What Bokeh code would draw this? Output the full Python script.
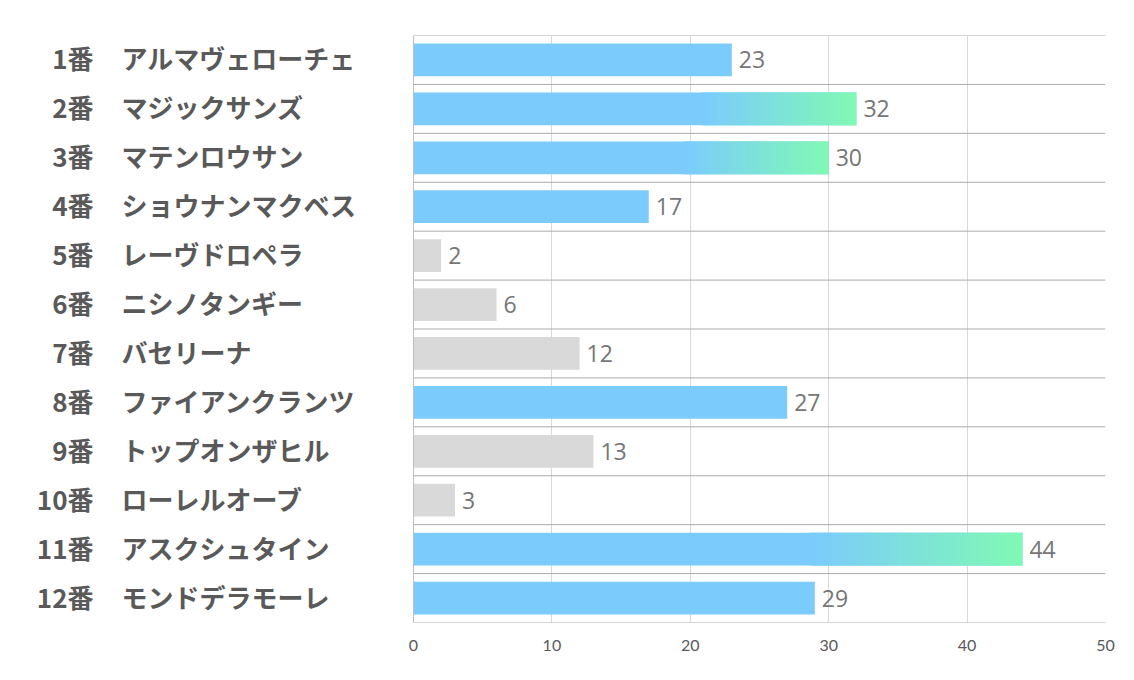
from bokeh.plotting import figure
from bokeh.models import Range1d
from bokeh.core.properties import value
from bokeh.embed import file_html
from bokeh.resources import INLINE
import numpy as np

numbers = ["1番", "2番", "3番", "4番", "5番", "6番", "7番", "8番", "9番", "10番", "11番", "12番"]
names = ["アルマヴェローチェ", "マジックサンズ", "マテンロウサン", "ショウナンマクベス", "レーヴドロペラ",
         "ニシノタンギー", "バセリーナ", "ファイアンクランツ", "トップオンザヒル", "ローレルオーブ",
         "アスクシュタイン", "モンドデラモーレ"]
values = [23, 32, 30, 17, 2, 6, 12, 27, 13, 3, 44, 29]
styles = ["blue", "grad", "grad", "blue", "gray", "gray", "gray", "blue", "gray", "gray", "grad", "blue"]
ticks = [0, 10, 20, 30, 40, 50]

BLUE = "#7BCBFD"
GREEN = "#80F9B4"
GRAY = "#D9D9D9"

n = len(values)
ys = [n - 1 - i for i in range(n)]

p = figure(width=1134, height=680, output_backend="svg", toolbar_location=None,
           x_range=Range1d(-29.84, 50), y_range=Range1d(-0.5, n - 0.5),
           y_axis_location=None, min_border_left=0, min_border_right=29,
           min_border_top=35, min_border_bottom=58)
p.outline_line_color = None
p.background_fill_color = "white"
p.border_fill_color = "white"

# grid
p.xgrid.ticker = ticks
p.xgrid.grid_line_color = "#D9D9D9"
p.ygrid.grid_line_color = None

# axis
p.xaxis.ticker = ticks
p.xaxis.axis_line_color = None
p.xaxis.major_tick_line_color = None
p.xaxis.minor_tick_line_color = None
p.xaxis.major_tick_out = 0
p.xaxis.major_tick_in = 0
p.xaxis.major_label_standoff = 17
p.xaxis.major_label_text_font = "Lato"
p.xaxis.major_label_text_font_size = "16px"
p.xaxis.major_label_text_color = "#595959"

# bars
def interp(c1, c2, t):
    a = np.array([int(c1[i:i + 2], 16) for i in (1, 3, 5)], dtype=float)
    b = np.array([int(c2[i:i + 2], 16) for i in (1, 3, 5)], dtype=float)
    c = a + (b - a) * t
    return "#%02x%02x%02x" % tuple(int(round(v)) for v in c)

H = 0.67
for y, v, s in zip(ys, values, styles):
    if s == "gray":
        p.hbar(y=[y], left=[0], right=[v], height=H, fill_color=GRAY, line_color=None)
    elif s == "blue":
        p.hbar(y=[y], left=[0], right=[v], height=H, fill_color=BLUE, line_color=None)
    else:
        start = 0.65 * v
        p.hbar(y=[y], left=[0], right=[v], height=H, fill_color=BLUE, line_color=None)
        N = 60
        edges = np.linspace(start, v, N + 1)
        cols = [interp(BLUE, GREEN, (k + 0.5) / N) for k in range(N)]
        lefts = list(edges[:-1])
        rights = list(edges[1:] + (v - start) / N * 0.6)
        rights[-1] = v
        p.hbar(y=[y] * N, left=lefts, right=rights, height=H, fill_color=cols, line_color=None)

# separators
bounds = [k - 0.5 for k in range(n + 1)]
p.segment(x0=[ticks[0]] * len(bounds), x1=[ticks[-1]] * len(bounds), y0=bounds, y1=bounds,
          line_color="#ABABAB", line_width=1)
p.segment(x0=[ticks[0]], x1=[ticks[0]], y0=[-0.5], y1=[n - 0.5], line_color="#BFBFBF", line_width=1)

# value labels
p.text(x=values, y=ys, text=[str(v) for v in values], x_offset=7, text_baseline="middle",
       text_align="left", text_font=value("Open Sans"), text_font_size="23px", text_color="#767676")

# category labels
p.text(x=[-23.12] * n, y=ys, text=numbers, text_align="right", text_baseline="middle", y_offset=-2,
       text_font=value("Noto Sans CJK JP"), text_font_style="bold", text_font_size="26px",
       text_color="#595959")
p.text(x=[-21.1] * n, y=ys, text=names, text_align="left", text_baseline="middle", y_offset=-2,
       text_font=value("Noto Sans CJK JP"), text_font_style="bold", text_font_size="26px",
       text_color="#595959")

open("out.html", "w").write(file_html(p, INLINE))
